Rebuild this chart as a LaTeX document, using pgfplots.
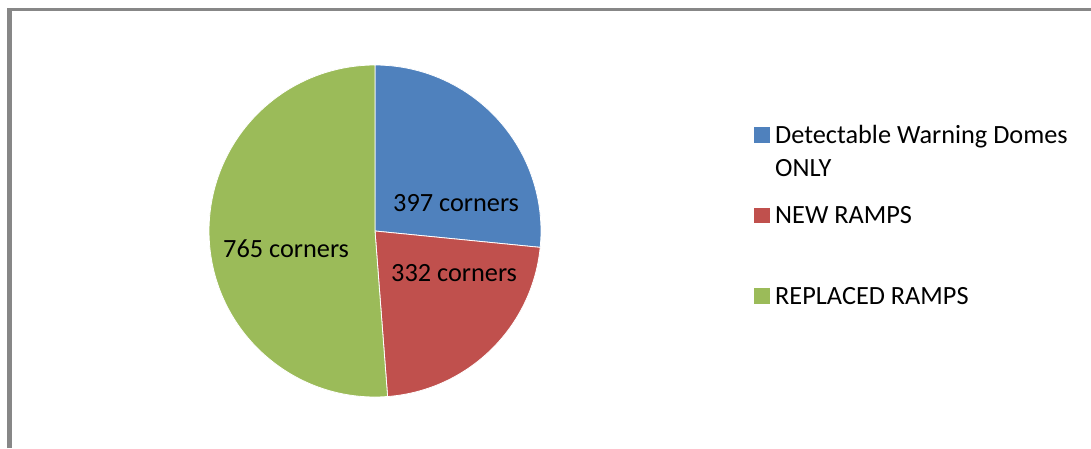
\documentclass[border=0pt]{standalone}
\usepackage{pgfplots}
\pgfplotsset{compat=1.18}
\usepackage{fontspec}
\setmainfont{Carlito}
\definecolor{pieblue}{HTML}{4F81BD}
\definecolor{piered}{HTML}{C0504D}
\definecolor{piegreen}{HTML}{9BBB59}
\definecolor{framegray}{HTML}{878787}
\begin{document}
\begin{tikzpicture}
% values
\def\vA{397}\def\vB{332}\def\vC{765}
\pgfmathsetmacro\tot{\vA+\vB+\vC}
\pgfmathsetmacro\aS{90}
\pgfmathsetmacro\aA{90-\vA/\tot*360}
\pgfmathsetmacro\aB{\aA-\vB/\tot*360}
\pgfmathsetmacro\aC{\aB-\vC/\tot*360}
\def\cx{375}\def\cy{217}\def\R{166}
\begin{axis}[
  scale only axis, width=1091pt, height=448pt,
  xmin=0, xmax=1091, ymin=0, ymax=448,
  hide axis, clip=true, at={(0,0)}, anchor=south west,
]
% frame
\draw[framegray, line width=5pt] (axis cs:9.8,0) -- (axis cs:9.8,440);
\draw[framegray, line width=3.5pt] (axis cs:7.3,438.3) -- (axis cs:1091,438.3);
% pie slices
\fill[pieblue, draw=white, line width=0.8pt] (axis cs:\cx,\cy) -- (axis cs:{\cx+\R*cos(\aS)},{\cy+\R*sin(\aS)}) arc[start angle=\aS, end angle=\aA, radius=\R pt] -- cycle;
\fill[piered, draw=white, line width=0.8pt] (axis cs:\cx,\cy) -- (axis cs:{\cx+\R*cos(\aA)},{\cy+\R*sin(\aA)}) arc[start angle=\aA, end angle=\aB, radius=\R pt] -- cycle;
\fill[piegreen, draw=white, line width=0.8pt] (axis cs:\cx,\cy) -- (axis cs:{\cx+\R*cos(\aB)},{\cy+\R*sin(\aB)}) arc[start angle=\aB, end angle=\aC, radius=\R pt] -- cycle;
% slice labels
\node[anchor=base west, inner sep=0pt, font=\fontsize{26.3}{30}\selectfont] at (axis cs:393,237) {397 corners};
\node[anchor=base west, inner sep=0pt, font=\fontsize{26.3}{30}\selectfont] at (axis cs:391,167) {332 corners};
\node[anchor=base west, inner sep=0pt, font=\fontsize{26.3}{30}\selectfont] at (axis cs:223,191) {765 corners};
% legend
\fill[pieblue] (axis cs:754,305) rectangle (axis cs:770,321);
\fill[piered] (axis cs:754,225) rectangle (axis cs:770,240);
\fill[piegreen] (axis cs:754,144) rectangle (axis cs:770,160);
\node[anchor=base west, inner sep=0pt, font=\fontsize{26.3}{30}\selectfont] at (axis cs:775,305) {Detectable Warning Domes};
\node[anchor=base west, inner sep=0pt, font=\fontsize{26.3}{30}\selectfont] at (axis cs:775,272) {ONLY};
\node[anchor=base west, inner sep=0pt, font=\fontsize{26.3}{30}\selectfont] at (axis cs:775,225) {NEW RAMPS};
\node[anchor=base west, inner sep=0pt, font=\fontsize{26.3}{30}\selectfont] at (axis cs:775,144) {REPLACED RAMPS};
\end{axis}
\pgfresetboundingbox
\path[use as bounding box] (0,0) rectangle (1091pt,448pt);
\end{tikzpicture}
\end{document}
